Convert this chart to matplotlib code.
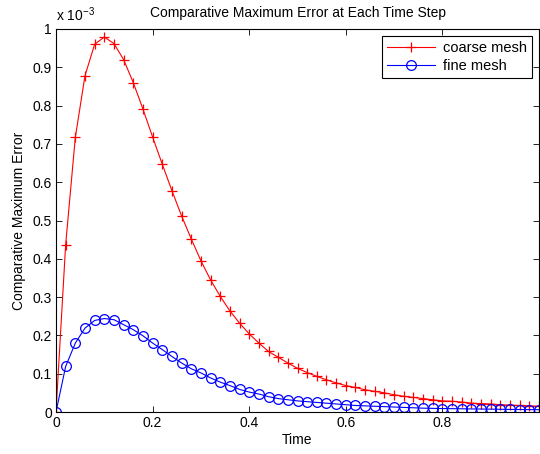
import numpy as np
import matplotlib
matplotlib.use("Agg")
import matplotlib.pyplot as plt

# time steps and errors (values in units of 1e-3)
time = [0.00, 0.02, 0.04, 0.06, 0.08, 0.10, 0.12, 0.14, 0.16, 0.18,
        0.20, 0.22, 0.24, 0.26, 0.28, 0.30, 0.32, 0.34, 0.36, 0.38,
        0.40, 0.42, 0.44, 0.46, 0.48, 0.50, 0.52, 0.54, 0.56, 0.58,
        0.60, 0.62, 0.64, 0.66, 0.68, 0.70, 0.72, 0.74, 0.76, 0.78,
        0.80, 0.82, 0.84, 0.86, 0.88, 0.90, 0.92, 0.94, 0.96, 0.98, 1.00]
coarse = [0.000, 0.437, 0.717, 0.878, 0.960, 0.979, 0.962, 0.920, 0.860, 0.791,
          0.718, 0.647, 0.578, 0.512, 0.452, 0.395, 0.345, 0.302, 0.264, 0.232,
          0.204, 0.180, 0.158, 0.143, 0.128, 0.114, 0.103, 0.093, 0.084, 0.076,
          0.069, 0.064, 0.058, 0.054, 0.050, 0.045, 0.041, 0.038, 0.035, 0.032,
          0.029, 0.028, 0.026, 0.023, 0.022, 0.021, 0.019, 0.018, 0.017, 0.016, 0.015]
fine = [0.000, 0.119, 0.180, 0.219, 0.239, 0.244, 0.241, 0.228, 0.215, 0.199,
        0.180, 0.163, 0.145, 0.128, 0.113, 0.102, 0.089, 0.078, 0.069, 0.059,
        0.052, 0.047, 0.040, 0.035, 0.032, 0.029, 0.027, 0.025, 0.023, 0.021,
        0.019, 0.017, 0.016, 0.015, 0.014, 0.013, 0.012, 0.011, 0.010, 0.0095,
        0.009, 0.0087, 0.0084, 0.008, 0.0077, 0.0074, 0.0071, 0.0068, 0.0065, 0.0062, 0.006]

yticks = [0, 0.1, 0.2, 0.3, 0.4, 0.5, 0.6, 0.7, 0.8, 0.9, 1]
ytick_labels = ["0", "0.1", "0.2", "0.3", "0.4", "0.5", "0.6", "0.7", "0.8", "0.9", "1"]
xticks = [0, 0.2, 0.4, 0.6, 0.8, 1]
xtick_labels = ["0", "0.2", "0.4", "0.6", "0.8", ""]  # "1" falls off the right edge

plt.rcParams.update({
    "font.family": ["Liberation Sans", "DejaVu Sans"],
    "font.size": 10,
    "mathtext.fontset": "custom",
    "mathtext.rm": "Liberation Sans",
    "mathtext.it": "Liberation Sans",
})

fig = plt.figure(figsize=(5.40, 4.54), dpi=100)
ax = fig.add_axes([56 / 540, 1 - 412 / 454, 483 / 540, 383 / 454])

ax.plot(time, coarse, color="#ff0000", lw=0.8, marker="+", ms=7.5, mew=0.9,
        label="coarse mesh")
ax.plot(time, fine, color="#0000ff", lw=0.8, marker="o", ms=7, mew=0.9,
        mfc="none", label="fine mesh")

ax.set_xlim(0, 1)
ax.set_ylim(0, 1)
ax.set_xticks(xticks)
ax.set_xticklabels(xtick_labels)
ax.set_yticks(yticks)
ax.set_yticklabels(ytick_labels)
ax.tick_params(direction="in", top=True, right=True, length=4, width=0.6,
               labelsize=10, pad=3)
for s in ax.spines.values():
    s.set_linewidth(0.8)

ax.set_title("Comparative Maximum Error at Each Time Step", fontsize=10, pad=9)
ax.set_xlabel("Time", fontsize=10, labelpad=2)
ax.set_ylabel("Comparative Maximum Error", fontsize=10, labelpad=5)
ax.text(0.0, 1.012, r"x 10$^{-3}$", transform=ax.transAxes, ha="left", va="bottom",
        fontsize=10)

leg = ax.legend(loc="upper right", fancybox=False, framealpha=1, edgecolor="black",
                borderaxespad=0.5, handlelength=3.3, borderpad=0.35, labelspacing=0.25,
                handletextpad=0.5, fontsize=10.5, numpoints=1)
leg.get_frame().set_linewidth(0.8)

fig.savefig("out.png", dpi=100)
